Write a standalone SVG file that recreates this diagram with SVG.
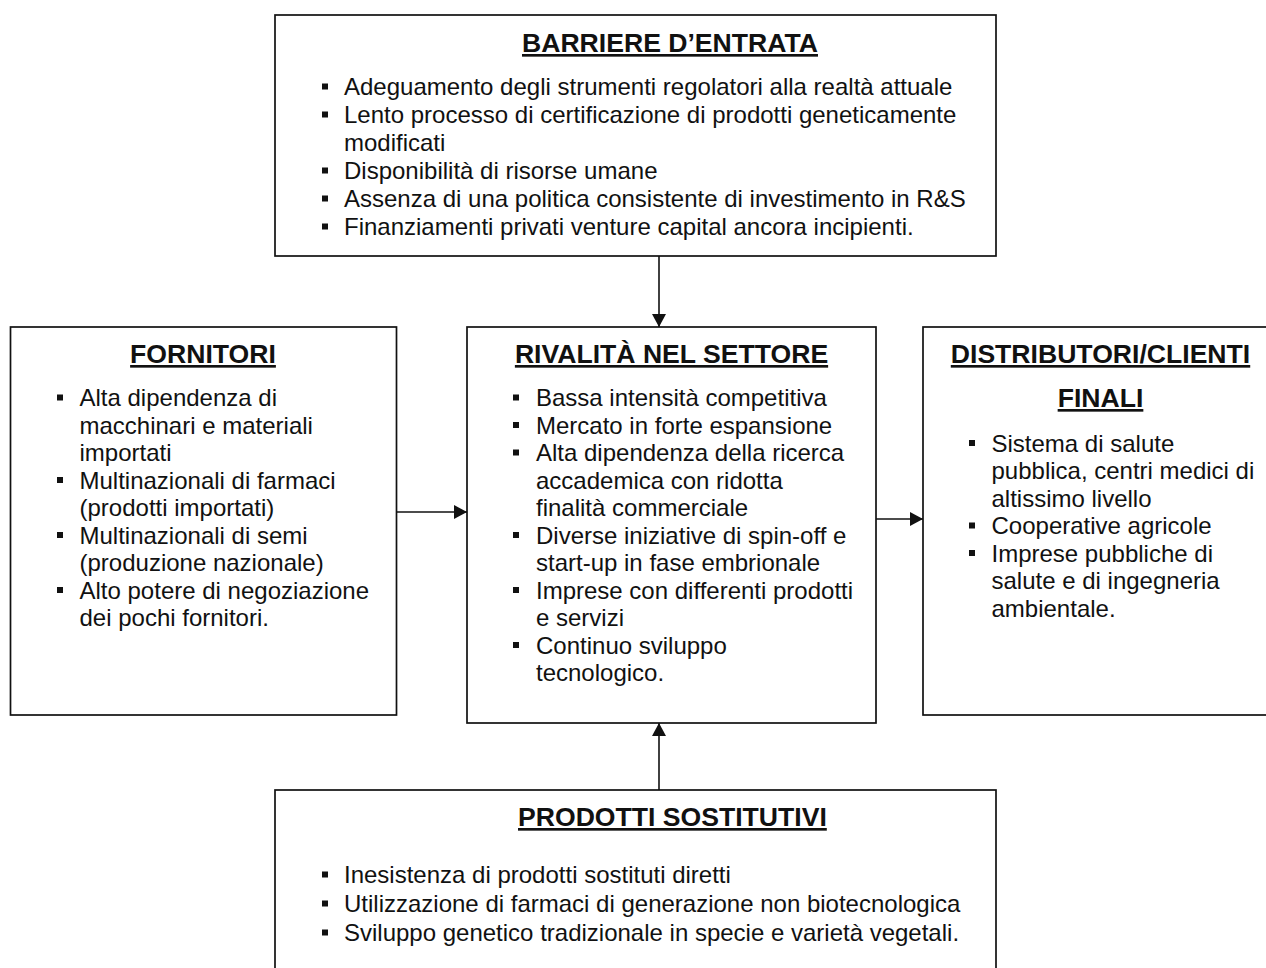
<svg xmlns="http://www.w3.org/2000/svg" width="1266" height="968" viewBox="0 0 1266 968">
<style>
.box{fill:#fff;stroke:#111;stroke-width:1.7}
.t{font-family:"Liberation Sans",Arial,sans-serif;font-size:24px;fill:#111}
.h{font-family:"Liberation Sans",Arial,sans-serif;font-size:26.6px;font-weight:bold;fill:#111;text-decoration:underline}
.c{text-anchor:middle}
.b{fill:#111}
.conn{stroke:#111;stroke-width:1.6;fill:none}
</style>
<defs>
<marker id="arr" markerUnits="userSpaceOnUse" markerWidth="13" markerHeight="14" viewBox="0 0 13 14" refX="13" refY="7" orient="auto">
<path d="M0,0 L13,7 L0,14 z" fill="#111"/>
</marker>
</defs>
<rect width="1266" height="968" fill="#fff"/>

<g id="barriere">
<rect class="box" x="275" y="15" width="721" height="241"/>
<text class="h" x="522" y="52">BARRIERE D’ENTRATA</text>
<rect class="b" x="322" y="83.5" width="6" height="6"/>
<text class="t" x="344" y="95">Adeguamento degli strumenti regolatori alla realtà attuale</text>
<rect class="b" x="322" y="111.5" width="6" height="6"/>
<text class="t" x="344" y="123">Lento processo di certificazione di prodotti geneticamente</text>
<text class="t" x="344" y="151">modificati</text>
<rect class="b" x="322" y="167.5" width="6" height="6"/>
<text class="t" x="344" y="179">Disponibilità di risorse umane</text>
<rect class="b" x="322" y="195.5" width="6" height="6"/>
<text class="t" x="344" y="207">Assenza di una politica consistente di investimento in R&amp;S</text>
<rect class="b" x="322" y="223.5" width="6" height="6"/>
<text class="t" x="344" y="235">Finanziamenti privati venture capital ancora incipienti.</text>
</g>

<g id="fornitori">
<rect class="box" x="10.5" y="327" width="386" height="388"/>
<text class="h c" x="203" y="363">FORNITORI</text>
<rect class="b" x="57" y="394.5" width="6" height="6"/>
<text class="t" x="79.5" y="406">Alta dipendenza di</text>
<text class="t" x="79.5" y="433.5">macchinari e materiali</text>
<text class="t" x="79.5" y="461">importati</text>
<rect class="b" x="57" y="477" width="6" height="6"/>
<text class="t" x="79.5" y="488.5">Multinazionali di farmaci</text>
<text class="t" x="79.5" y="516">(prodotti importati)</text>
<rect class="b" x="57" y="532" width="6" height="6"/>
<text class="t" x="79.5" y="543.5">Multinazionali di semi</text>
<text class="t" x="79.5" y="571">(produzione nazionale)</text>
<rect class="b" x="57" y="587" width="6" height="6"/>
<text class="t" x="79.5" y="598.5">Alto potere di negoziazione</text>
<text class="t" x="79.5" y="626">dei pochi fornitori.</text>
</g>

<g id="rivalita">
<rect class="box" x="467" y="327" width="409" height="396"/>
<text class="h c" x="671.5" y="363">RIVALITÀ NEL SETTORE</text>
<rect class="b" x="513" y="394.5" width="6" height="6"/>
<text class="t" x="536" y="406">Bassa intensità competitiva</text>
<rect class="b" x="513" y="422" width="6" height="6"/>
<text class="t" x="536" y="433.5">Mercato in forte espansione</text>
<rect class="b" x="513" y="449.5" width="6" height="6"/>
<text class="t" x="536" y="461">Alta dipendenza della ricerca</text>
<text class="t" x="536" y="488.5">accademica con ridotta</text>
<text class="t" x="536" y="516">finalità commerciale</text>
<rect class="b" x="513" y="532" width="6" height="6"/>
<text class="t" x="536" y="543.5">Diverse iniziative di spin-off e</text>
<text class="t" x="536" y="571">start-up in fase embrionale</text>
<rect class="b" x="513" y="587" width="6" height="6"/>
<text class="t" x="536" y="598.5">Imprese con differenti prodotti</text>
<text class="t" x="536" y="626">e servizi</text>
<rect class="b" x="513" y="642" width="6" height="6"/>
<text class="t" x="536" y="653.5">Continuo sviluppo</text>
<text class="t" x="536" y="681">tecnologico.</text>
</g>

<g id="distributori">
<rect class="box" x="923" y="327" width="360" height="388"/>
<text class="h c" x="1100.5" y="363">DISTRIBUTORI/CLIENTI</text>
<text class="h c" x="1100.5" y="407">FINALI</text>
<rect class="b" x="969" y="440" width="6" height="6"/>
<text class="t" x="991.5" y="451.5">Sistema di salute</text>
<text class="t" x="991.5" y="479">pubblica, centri medici di</text>
<text class="t" x="991.5" y="506.5">altissimo livello</text>
<rect class="b" x="969" y="522.5" width="6" height="6"/>
<text class="t" x="991.5" y="534">Cooperative agricole</text>
<rect class="b" x="969" y="550" width="6" height="6"/>
<text class="t" x="991.5" y="561.5">Imprese pubbliche di</text>
<text class="t" x="991.5" y="589">salute e di ingegneria</text>
<text class="t" x="991.5" y="616.5">ambientale.</text>
</g>

<g id="sostitutivi">
<rect class="box" x="275" y="790" width="721" height="200"/>
<text class="h" x="518" y="826">PRODOTTI SOSTITUTIVI</text>
<rect class="b" x="322" y="871.5" width="6" height="6"/>
<text class="t" x="344" y="883">Inesistenza di prodotti sostituti diretti</text>
<rect class="b" x="322" y="900.5" width="6" height="6"/>
<text class="t" x="344" y="912">Utilizzazione di farmaci di generazione non biotecnologica</text>
<rect class="b" x="322" y="929.5" width="6" height="6"/>
<text class="t" x="344" y="941">Sviluppo genetico tradizionale in specie e varietà vegetali.</text>
</g>

<g id="connectors">
<line class="conn" x1="659" y1="256" x2="659" y2="327" marker-end="url(#arr)"/>
<line class="conn" x1="396.5" y1="512" x2="467" y2="512" marker-end="url(#arr)"/>
<line class="conn" x1="876" y1="519" x2="923" y2="519" marker-end="url(#arr)"/>
<line class="conn" x1="659" y1="790" x2="659" y2="723" marker-end="url(#arr)"/>
</g>
</svg>
